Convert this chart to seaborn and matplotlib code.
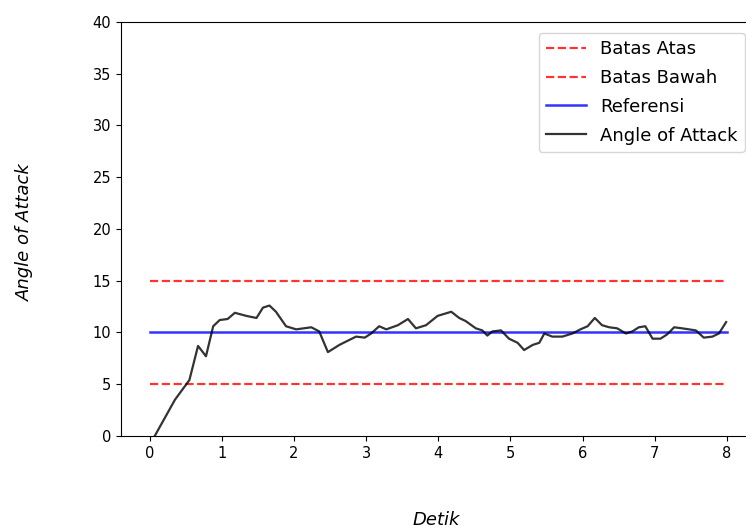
import numpy as np
import pandas as pd
import matplotlib
matplotlib.use("Agg")
import matplotlib.pyplot as plt
import seaborn as sns

# Time (seconds) and measured angle of attack
detik = [0.07, 0.35, 0.55, 0.67, 0.78, 0.88, 0.97, 1.08, 1.18, 1.34, 1.48, 1.57,
         1.66, 1.75, 1.89, 2.03, 2.24, 2.35, 2.47, 2.63, 2.86, 2.98, 3.07, 3.18,
         3.28, 3.44, 3.58, 3.69, 3.83, 3.99, 4.18, 4.29, 4.38, 4.52, 4.61, 4.68,
         4.75, 4.87, 4.98, 5.10, 5.19, 5.31, 5.40, 5.47, 5.58, 5.72, 5.86, 5.97,
         6.07, 6.17, 6.27, 6.37, 6.48, 6.60, 6.69, 6.78, 6.87, 6.97, 7.08, 7.17,
         7.27, 7.38, 7.57, 7.68, 7.80, 7.89, 7.99]
aoa = [0.0, 3.5, 5.4, 8.7, 7.7, 10.6, 11.2, 11.3, 11.9, 11.6, 11.4, 12.4,
       12.6, 12.0, 10.6, 10.3, 10.5, 10.1, 8.1, 8.8, 9.6, 9.5, 9.9, 10.6,
       10.3, 10.7, 11.3, 10.4, 10.7, 11.6, 12.0, 11.4, 11.1, 10.4, 10.2, 9.7,
       10.1, 10.2, 9.4, 9.0, 8.3, 8.8, 9.0, 9.9, 9.6, 9.6, 9.9, 10.3,
       10.6, 11.4, 10.7, 10.5, 10.4, 9.9, 10.1, 10.5, 10.6, 9.4, 9.4, 9.8,
       10.5, 10.4, 10.2, 9.5, 9.6, 9.9, 11.0]

# Limits and reference
t_span = [0, 8]
batas_atas = [15, 15]
batas_bawah = [5, 5]
referensi = [10, 10]

fig = plt.figure(figsize=(7.46, 5.31), dpi=100)
ax = fig.add_axes([0.162, 0.179, 0.851, 0.7796])

sns.lineplot(x=t_span, y=batas_atas, ax=ax, color="red", alpha=0.8,
             linestyle="--", linewidth=1.6, label="Batas Atas")
sns.lineplot(x=t_span, y=batas_bawah, ax=ax, color="red", alpha=0.8,
             linestyle="--", linewidth=1.6, label="Batas Bawah")
sns.lineplot(x=t_span, y=referensi, ax=ax, color="blue", alpha=0.8,
             linewidth=1.8, label="Referensi")
sns.lineplot(x=detik, y=aoa, ax=ax, color="black", alpha=0.8,
             linewidth=1.6, label="Angle of Attack", sort=False)

ax.set_ylim(0, 40)
ax.set_xlim(-0.4, 8.4)
ax.set_xticks(range(0, 9))
ax.set_yticks(range(0, 41, 5))
ax.tick_params(labelsize=10.5)
ax.spines["right"].set_visible(False)

ax.set_xlabel("Detik", fontsize=13, style="italic")
ax.set_ylabel("Angle of Attack", fontsize=13, style="italic")
ax.xaxis.set_label_coords(0.496, -0.181)
ax.yaxis.set_label_coords(-0.137, 0.493)

ax.legend(loc="upper right", fontsize=13, handlelength=2.2,
          labelspacing=0.6, borderaxespad=0.6)

fig.savefig("out.png", dpi=100)
